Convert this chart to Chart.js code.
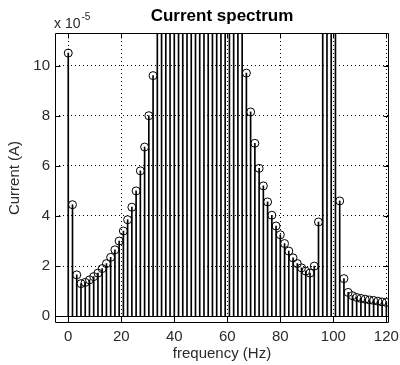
<!DOCTYPE html>
<html>
<head>
<meta charset="utf-8">
<title>Current spectrum</title>
<script src="https://cdn.jsdelivr.net/npm/chart.js@4.4.0/dist/chart.umd.min.js"></script>
<style>
  html, body { margin: 0; padding: 0; background: #fff; }
  #wrap { width: 400px; height: 365px; }
</style>
</head>
<body>
<div id="wrap"><canvas id="spectrum"></canvas></div>
<script>
// frequency bins (Hz)
const freqHz = [
  0, 1.6, 3.2, 4.8, 6.4, 8, 9.6, 11.2, 12.8, 14.4,
  16, 17.6, 19.2, 20.8, 22.4, 24, 25.6, 27.2, 28.8, 30.4,
  32, 33.6, 35.2, 36.8, 38.4, 40, 41.6, 43.2, 44.8, 46.4,
  48, 49.6, 51.2, 52.8, 54.4, 56, 57.6, 59.2, 60.8, 62.4,
  64, 65.6, 67.2, 68.8, 70.4, 72, 73.6, 75.2, 76.8, 78.4,
  80, 81.6, 83.2, 84.8, 86.4, 88, 89.6, 91.2, 92.8, 94.4,
  96, 97.6, 99.2, 100.8, 102.4, 104, 105.6, 107.2, 108.8, 110.4,
  112, 113.6, 115.2, 116.8, 118.4, 120
];

// current amplitude, in units of 1e-5 A (tall ones near 50/100 Hz run off the top)
const currentE5 = [
  10.5, 4.45, 1.65, 1.3, 1.35, 1.45, 1.58, 1.72, 1.9, 2.1,
  2.35, 2.65, 3.0, 3.4, 3.85, 4.35, 5.0, 5.8, 6.75, 8.0,
  9.6, 12.5, 14, 16, 19, 23, 29, 38, 55, 95,
  220, 480, 300, 120, 65, 42, 30, 23, 18.5, 15.5,
  13.5, 11.8, 9.7, 8.15, 6.9, 5.9, 5.2, 4.56, 4.03, 3.6,
  3.25, 2.9, 2.6, 2.33, 2.1, 1.93, 1.8, 1.72, 2.0, 3.76,
  14, 22, 26, 16, 4.6, 1.5, 0.95, 0.82, 0.75, 0.71,
  0.68, 0.65, 0.63, 0.6, 0.57, 0.55
];

const xTicks = [0, 20, 40, 60, 80, 100, 120];
const yTicks = [0, 2, 4, 6, 8, 10];

const FONT = '"Liberation Sans", Arial, Helvetica, sans-serif';
const TEXT = '#2a2a2a';
const TICK = 5;

const points = freqHz.map((f, i) => ({ x: f, y: currentE5[i] }));

// box, inward ticks, stem baseline and the axis multiplier
const axesBox = {
  id: 'axesBox',
  afterDatasetsDraw(chart) {
    const { ctx, chartArea: a, scales: { x, y } } = chart;
    const L = Math.round(a.left) + 0.5, R = Math.round(a.right) - 0.5;
    const T = Math.round(a.top) + 0.5, B = Math.round(a.bottom) - 0.5;
    ctx.save();
    ctx.strokeStyle = '#000';
    ctx.lineWidth = 1;
    ctx.beginPath();
    const y0 = Math.round(y.getPixelForValue(0)) + 0.5;
    ctx.moveTo(L, y0); ctx.lineTo(R, y0);
    ctx.rect(L, T, R - L, B - T);
    xTicks.forEach(v => {
      const px = Math.round(x.getPixelForValue(v)) + 0.5;
      ctx.moveTo(px, B); ctx.lineTo(px, B - TICK);
      ctx.moveTo(px, T); ctx.lineTo(px, T + TICK);
    });
    yTicks.forEach(v => {
      const py = Math.round(y.getPixelForValue(v)) + 0.5;
      ctx.moveTo(L, py); ctx.lineTo(L + TICK, py);
      ctx.moveTo(R, py); ctx.lineTo(R - TICK, py);
    });
    ctx.stroke();

    ctx.fillStyle = TEXT;
    ctx.textBaseline = 'alphabetic';
    ctx.font = '14px ' + FONT;
    ctx.fillText('x 10', a.left - 1, 28);
    const w = ctx.measureText('x 10').width;
    ctx.font = '10px ' + FONT;
    ctx.fillText('-5', a.left - 1 + w + 1, 20);
    ctx.restore();
  }
};

new Chart(document.getElementById('spectrum'), {
  type: 'bar',
  data: {
    datasets: [
      {
        type: 'scatter',
        data: points,
        pointStyle: 'circle',
        pointRadius: 4,
        borderColor: '#000',
        backgroundColor: 'rgba(0,0,0,0)',
        borderWidth: 1,
        clip: 0,
        order: 0
      },
      {
        type: 'bar',
        data: points,
        backgroundColor: '#000',
        borderWidth: 0,
        barThickness: 1,
        grouped: false,
        clip: 0,
        order: 1
      }
    ]
  },
  options: {
    responsive: true,
    maintainAspectRatio: false,
    animation: false,
    events: [],
    layout: { padding: { top: 0, right: 11, bottom: 0, left: 0 } },
    plugins: {
      legend: { display: false },
      tooltip: { enabled: false },
      title: {
        display: true,
        text: 'Current spectrum',
        fullSize: false,
        color: '#000',
        font: { family: FONT, size: 17, weight: 'bold', lineHeight: 1.2 },
        padding: { top: 6, bottom: 6.6 }
      }
    },
    scales: {
      x: {
        type: 'linear',
        min: -5,
        max: 121,
        offset: false,
        afterBuildTicks: s => { s.ticks = xTicks.map(v => ({ value: v })); },
        // fixed axis band; let the last label hang into the right margin
        afterFit: s => { s.height = 42; s.paddingLeft = 0; s.paddingRight = 0; },
        grid: { color: '#000', lineWidth: 1, drawTicks: false, offset: false },
        border: { display: false, dash: [1, 3] },
        ticks: { color: TEXT, padding: 5, maxRotation: 0, font: { family: FONT, size: 15 } },
        title: {
          display: true,
          text: 'frequency (Hz)',
          color: TEXT,
          font: { family: FONT, size: 15, lineHeight: 1.2 },
          padding: { top: 0, bottom: 2 }
        }
      },
      y: {
        type: 'linear',
        min: -0.27,
        max: 11.3,
        afterBuildTicks: s => { s.ticks = yTicks.map(v => ({ value: v })); },
        afterFit: s => { s.width = 55; },
        grid: { color: '#000', lineWidth: 1, drawTicks: false },
        border: { display: false, dash: [1, 3] },
        ticks: { color: TEXT, padding: 5, font: { family: FONT, size: 15 } },
        title: {
          display: true,
          text: 'Current (A)',
          color: TEXT,
          font: { family: FONT, size: 15, lineHeight: 1.2 },
          padding: { top: 6, bottom: 0 }
        }
      }
    }
  },
  plugins: [axesBox]
});
</script>
</body>
</html>
